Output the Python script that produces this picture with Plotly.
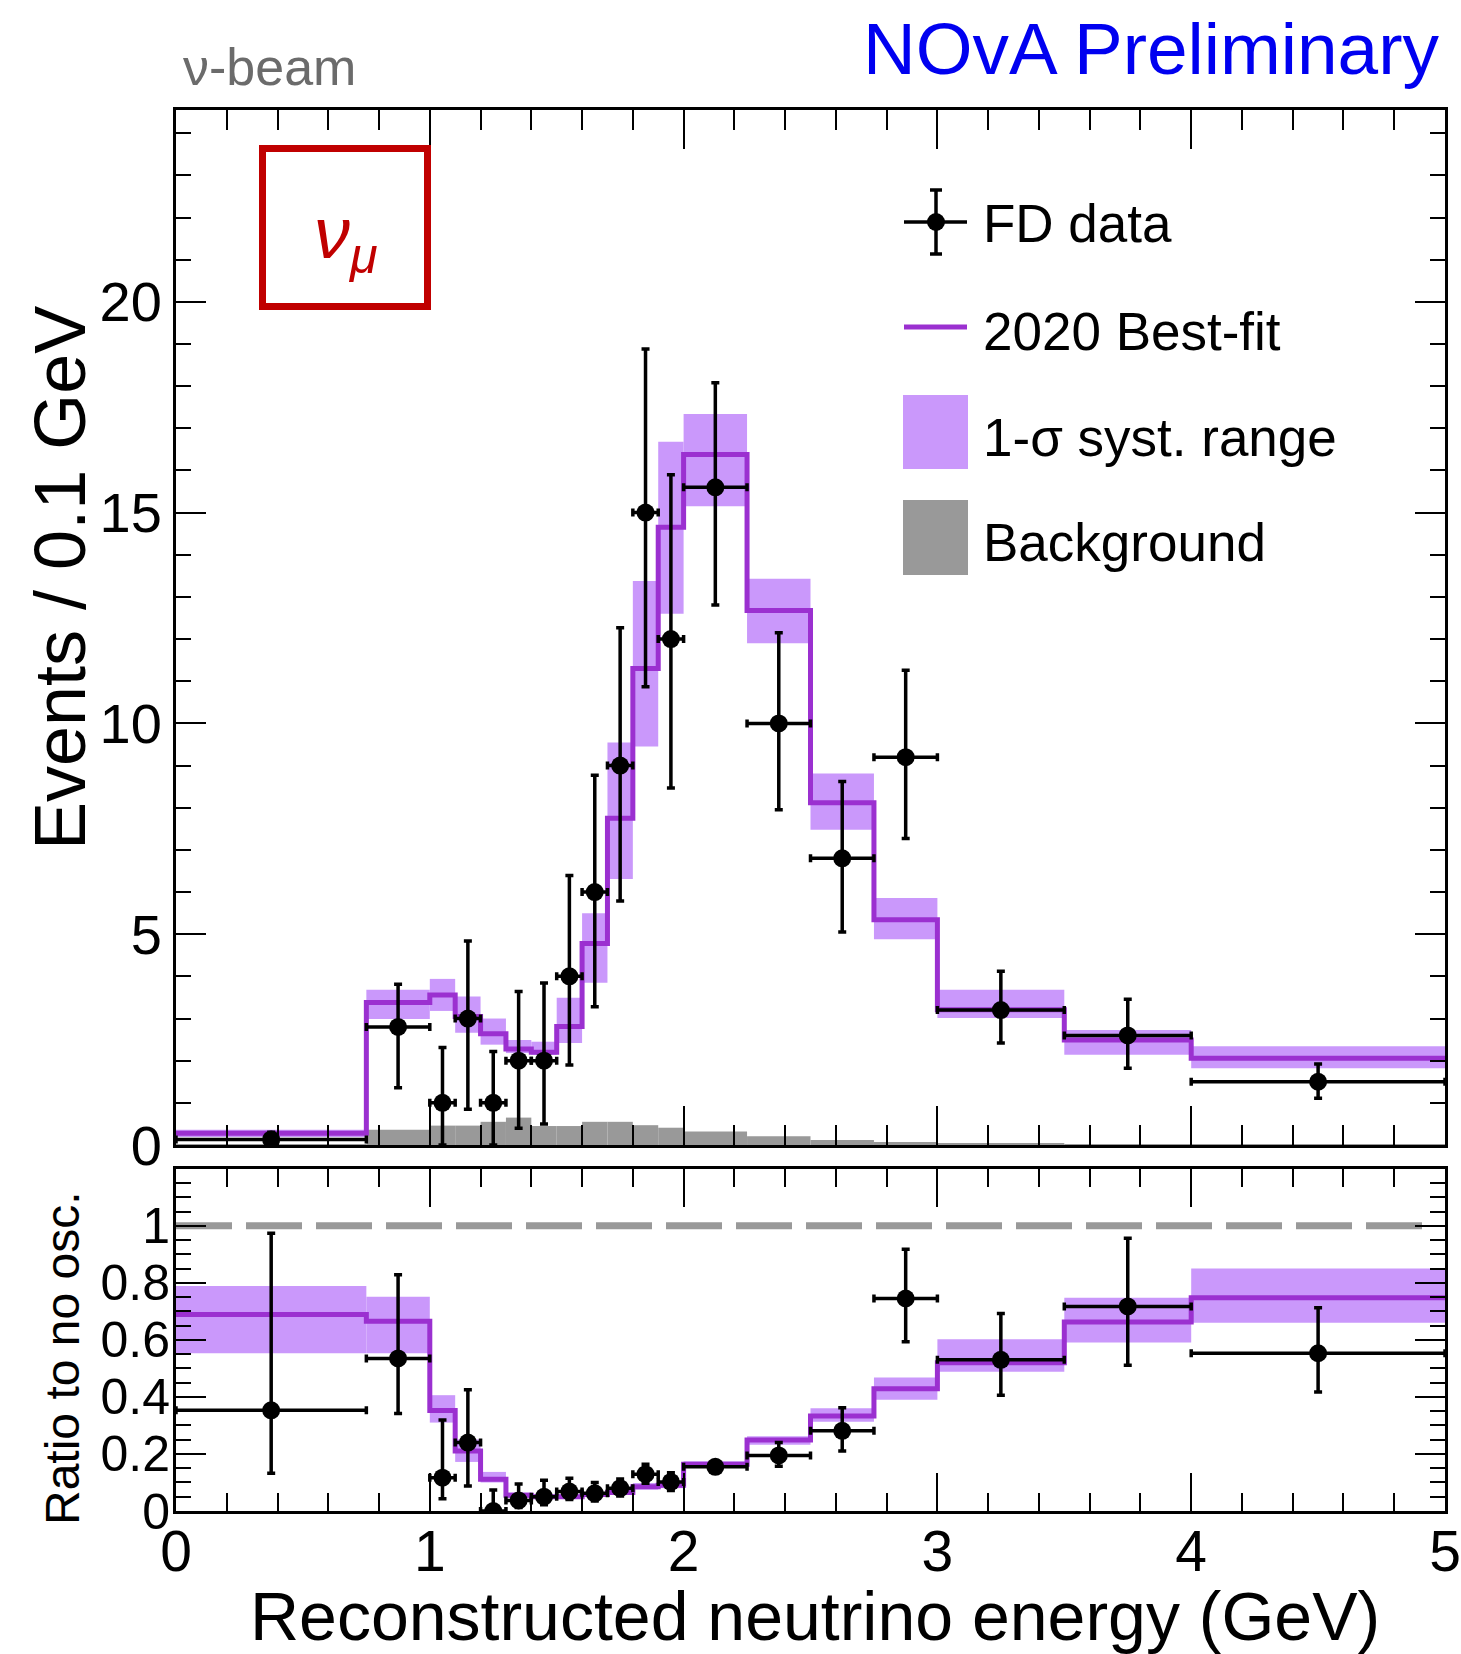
import plotly.graph_objects as go

# ---------------- data ----------------
bin_edges = [0.0, 0.75, 1.0, 1.1, 1.2, 1.3, 1.4, 1.5, 1.6, 1.7, 1.8, 1.9, 2.0,
             2.25, 2.5, 2.75, 3.0, 3.5, 4.0, 5.0]

# top panel: events / 0.1 GeV
bestfit = [0.28, 3.38, 3.56, 3.05, 2.64, 2.28, 2.20, 2.81, 4.78, 7.75, 11.30, 14.65,
           16.38, 12.68, 8.12, 5.34, 3.21, 2.49, 2.06]
syst_hi = [0.36, 3.68, 3.94, 3.52, 3.00, 2.49, 2.45, 3.49, 5.50, 9.55, 13.38, 16.68,
           17.34, 13.43, 8.81, 5.86, 3.68, 2.73, 2.34]
syst_lo = [0.19, 2.99, 3.18, 2.66, 2.38, 2.18, 2.14, 2.42, 3.85, 6.31, 9.45, 12.60,
           15.15, 11.90, 7.48, 4.88, 3.01, 2.14, 1.82]
background = [0.02, 0.36, 0.46, 0.46, 0.55, 0.65, 0.45, 0.45, 0.55, 0.55, 0.47, 0.41,
              0.32, 0.21, 0.12, 0.07, 0.03, 0.015, 0.01]
fd_data = [0.133, 2.8, 1.0, 3.0, 1.0, 2.0, 2.0, 4.0, 6.0, 9.0, 15.0, 12.0,
           15.6, 10.0, 6.8, 9.2, 3.2, 2.6, 1.5]
fd_top = [0.30, 3.81, 2.31, 4.84, 2.22, 3.64, 3.84, 6.39, 8.77, 12.27, 18.88, 15.90,
          18.08, 12.15, 8.62, 11.26, 4.12, 3.46, 1.92]
fd_bot = [0.02, 1.36, 0.0, 0.85, 0.0, 0.40, 0.50, 1.90, 3.28, 5.79, 10.87, 8.47,
          12.81, 7.95, 5.05, 7.27, 2.42, 1.82, 1.11]

# bottom panel: ratio to no oscillation
r_bestfit = [0.689, 0.665, 0.352, 0.210, 0.111, 0.055, 0.050, 0.050, 0.058, 0.065, 0.085,
             0.090, 0.164, 0.249, 0.333, 0.429, 0.520, 0.663, 0.748]
r_hi = [0.789, 0.751, 0.406, 0.251, 0.137, 0.065, 0.058, 0.058, 0.066, 0.075, 0.098,
        0.102, 0.174, 0.262, 0.360, 0.468, 0.602, 0.748, 0.850]
r_lo = [0.553, 0.553, 0.310, 0.172, 0.100, 0.046, 0.043, 0.043, 0.050, 0.056, 0.075,
        0.080, 0.155, 0.232, 0.313, 0.390, 0.488, 0.591, 0.660]
r_data = [0.353, 0.535, 0.117, 0.240, 0.0, 0.037, 0.050, 0.068, 0.062, 0.080, 0.129,
          0.102, 0.155, 0.195, 0.281, 0.745, 0.530, 0.717, 0.553]
r_top = [0.974, 0.828, 0.319, 0.425, 0.074, 0.095, 0.108, 0.115, 0.100, 0.112, 0.164,
         0.134, 0.168, 0.240, 0.362, 0.918, 0.692, 0.956, 0.713]
r_bot = [0.132, 0.342, 0.043, 0.088, 0.0, 0.012, 0.022, 0.040, 0.035, 0.053, 0.097,
         0.072, 0.142, 0.157, 0.210, 0.593, 0.406, 0.511, 0.417]
unity = [1.0, 1.0]
unity_x = [0.0, 4.94]

x_ticks = [0, 1, 2, 3, 4, 5]

# ---------------- style ----------------
FONT = "Liberation Sans, Arial, Helvetica, sans-serif"
PURPLE = "#9b30d0"
BAND = "#ca98fb"
GREY = "#999999"
W, H = 1461, 1654
ML, MR, MT, MB = 176, 16, 110, 143
PW, PH = W - ML - MR, H - MT - MB
BOT = H - MB


def px(x):
    return (x - ML) / PW


def py(y):
    return (BOT - y) / PH


centers = [(a + b) / 2 for a, b in zip(bin_edges[:-1], bin_edges[1:])]
widths = [b - a for a, b in zip(bin_edges[:-1], bin_edges[1:])]
halfw = [w / 2 for w in widths]

fig = go.Figure()

# --- bands / background ---
fig.add_trace(go.Bar(x=centers, y=[h - l for h, l in zip(syst_hi, syst_lo)], base=syst_lo,
                     width=widths, marker=dict(color=BAND, line=dict(width=0)),
                     xaxis="x", yaxis="y", hoverinfo="skip"))
fig.add_trace(go.Bar(x=centers, y=background, width=widths,
                     marker=dict(color=GREY, line=dict(width=0)),
                     xaxis="x", yaxis="y", hoverinfo="skip"))
fig.add_trace(go.Bar(x=centers, y=[h - l for h, l in zip(r_hi, r_lo)], base=r_lo,
                     width=widths, marker=dict(color=BAND, line=dict(width=0)),
                     xaxis="x2", yaxis="y2", hoverinfo="skip"))

# --- top panel lines / data ---
fig.add_trace(go.Scatter(x=bin_edges, y=bestfit + [bestfit[-1]], mode="lines",
                         line=dict(color=PURPLE, width=5, shape="hv"),
                         xaxis="x", yaxis="y"))
fig.add_trace(go.Scatter(
    x=centers, y=fd_data, mode="markers",
    marker=dict(color="black", size=18),
    error_y=dict(type="data", symmetric=False,
                 array=[t - v for t, v in zip(fd_top, fd_data)],
                 arrayminus=[v - b for v, b in zip(fd_data, fd_bot)],
                 color="black", thickness=3.5, width=4),
    error_x=dict(type="data", array=halfw, color="black", thickness=3.5, width=4),
    xaxis="x", yaxis="y"))

# --- bottom panel ---
fig.add_trace(go.Scatter(x=unity_x, y=unity, mode="lines",
                         line=dict(color=GREY, width=7, dash="56px,14px"),
                         xaxis="x2", yaxis="y2"))
fig.add_trace(go.Scatter(x=bin_edges, y=r_bestfit + [r_bestfit[-1]], mode="lines",
                         line=dict(color=PURPLE, width=5, shape="hv"),
                         xaxis="x2", yaxis="y2"))
fig.add_trace(go.Scatter(
    x=centers, y=r_data, mode="markers",
    marker=dict(color="black", size=18),
    error_y=dict(type="data", symmetric=False,
                 array=[t - v for t, v in zip(r_top, r_data)],
                 arrayminus=[v - b for v, b in zip(r_data, r_bot)],
                 color="black", thickness=3.5, width=4),
    error_x=dict(type="data", array=halfw, color="black", thickness=3.5, width=4),
    xaxis="x2", yaxis="y2"))

axis_common = dict(showline=True, linewidth=3, linecolor="black", mirror="allticks",
                   showgrid=False, zeroline=False, ticks="inside", tickwidth=2,
                   tickcolor="black", automargin=False)

top_dom = [(BOT - 1145) / PH, 1.0]
bot_dom = [0.0, (BOT - 1169) / PH]

fig.update_layout(
    width=W, height=H,
    margin=dict(l=ML, r=MR, t=MT, b=MB, autoexpand=False),
    paper_bgcolor="white", plot_bgcolor="white",
    showlegend=False, barmode="overlay", hovermode=False,
    font=dict(family=FONT, color="black"),
    xaxis=dict(domain=[0, 1], anchor="y", range=[0, 5], tickvals=x_ticks,
               ticklen=39, showticklabels=False,
               minor=dict(dtick=0.2, tick0=0, ticks="inside", ticklen=20, tickwidth=2,
                          tickcolor="black", showgrid=False),
               **axis_common),
    yaxis=dict(domain=top_dom, anchor="x", range=[0, 24.55], dtick=5, tick0=0,
               ticklen=30, tickfont=dict(size=56),
               minor=dict(dtick=1, tick0=0, ticks="inside", ticklen=15, tickwidth=2,
                          tickcolor="black", showgrid=False),
               **axis_common),
    xaxis2=dict(domain=[0, 1], anchor="y2", range=[0, 5], tickvals=x_ticks,
                ticklen=38, tickfont=dict(size=57), ticklabelstandoff=-11,
                minor=dict(dtick=0.2, tick0=0, ticks="inside", ticklen=18, tickwidth=2,
                           tickcolor="black", showgrid=False),
                **axis_common),
    yaxis2=dict(domain=bot_dom, anchor="x2", range=[0, 1.199], dtick=0.2, tick0=0,
                ticklen=30, tickfont=dict(size=50), ticklabelstandoff=-7,
                minor=dict(dtick=0.05, tick0=0, ticks="inside", ticklen=15, tickwidth=2,
                           tickcolor="black", showgrid=False),
                **axis_common),
)

shapes = []
annots = []


def pline(x0, y0, x1, y1, color, width):
    shapes.append(dict(type="line", xref="paper", yref="paper",
                       x0=px(x0), y0=py(y0), x1=px(x1), y1=py(y1),
                       line=dict(color=color, width=width)))


def prect(x0, y0, x1, y1, fill=None, color=None, width=0):
    d = dict(type="rect", xref="paper", yref="paper",
             x0=px(x0), y0=py(y0), x1=px(x1), y1=py(y1),
             line=dict(width=width, color=color if color else "rgba(0,0,0,0)"))
    if fill:
        d["fillcolor"] = fill
    shapes.append(d)


def ptext(x, y, text, size, color="black", xanchor="left", angle=0):
    annots.append(dict(xref="paper", yref="paper", x=px(x), y=py(y), text=text,
                       showarrow=False, xanchor=xanchor, yanchor="middle",
                       textangle=angle,
                       font=dict(family=FONT, size=size, color=color)))


# nu_mu box
prect(262.5, 148.5, 427.5, 306.5, color="#c00000", width=7)
ptext(346, 238, "<i>ν</i><sub><i>μ</i></sub>", 72, color="#c00000", xanchor="center")

# legend
pline(904, 222, 967, 222, "black", 3.5)
pline(936, 190, 936, 254, "black", 3.5)
pline(930, 190, 942, 190, "black", 3.5)
pline(930, 254, 942, 254, "black", 3.5)
shapes.append(dict(type="circle", xref="paper", yref="paper",
                   x0=px(927), y0=py(231), x1=px(945), y1=py(213),
                   fillcolor="black", line=dict(color="black", width=0)))
ptext(981, 224, "FD data", 53)
pline(904, 327, 967, 327, PURPLE, 5)
ptext(981, 331, "2020 Best-fit", 53)
prect(903, 395, 968, 469, fill=BAND)
ptext(981, 437, "1-σ syst. range", 53)
prect(903, 500, 968, 575, fill=GREY)
ptext(981, 542, "Background", 53)

# titles
ptext(1442, 48, "NOvA Preliminary", 73, color="#0000f0", xanchor="right")
ptext(181, 67, "ν-beam", 52, color="#6b6b6b")
ptext(815, 1616, "Reconstructed neutrino energy (GeV)", 68, xanchor="center")
ptext(60, 578, "Events / 0.1 GeV", 72, xanchor="center", angle=-90)
ptext(62, 1358, "Ratio to no osc.", 48, xanchor="center", angle=-90)

fig.update_layout(shapes=shapes, annotations=annots)

fig.write_html("out.html")
